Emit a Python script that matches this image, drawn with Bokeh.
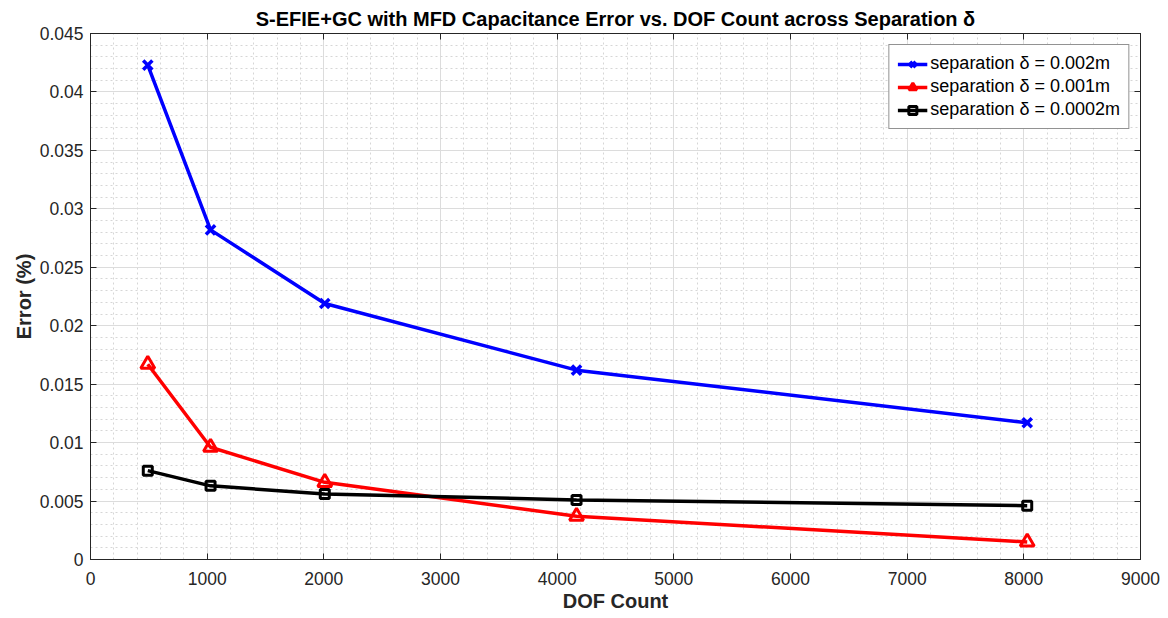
from bokeh.plotting import figure
from bokeh.models import (LinearAxis, SingleIntervalTicker, CustomJSTickFormatter,
                          CustomLabelingPolicy, Range1d)
from bokeh.embed import file_html
from bokeh.resources import INLINE

# DOF count for each refinement level
dof = [491, 1029, 2008, 4166, 8029]

# capacitance error (%) per separation
err_sep_0002 = [0.0423, 0.0282, 0.0219, 0.0162, 0.0117]
err_sep_0001 = [0.0167, 0.0096, 0.0066, 0.0037, 0.0015]
err_sep_00002 = [0.0076, 0.0063, 0.0056, 0.0051, 0.0046]

labels = ["separation δ = 0.002m", "separation δ = 0.001m", "separation δ = 0.0002m"]

title_text = "S-EFIE+GC with MFD Capacitance Error vs. DOF Count across Separation δ"
x_label = "DOF Count"
y_label = "Error (%)"

FONT = "Liberation Sans"
AX = "#262626"

p = figure(width=1168, height=618, output_backend="svg", toolbar_location=None,
           x_range=Range1d(0, 9000), y_range=Range1d(0, 0.045),
           min_border_left=90, min_border_right=28, min_border_top=33,
           min_border_bottom=59, background_fill_color="white",
           border_fill_color="white")

p.title.text = title_text
p.title.text_font = FONT
p.title.text_font_size = "20px"
p.title.text_font_style = "bold"
p.title.text_color = "black"
p.title.align = "center"
p.title.standoff = 0
p.title.offset = 0

p.outline_line_color = AX
p.outline_line_width = 1

fmt = CustomJSTickFormatter(code="return String(parseFloat(tick.toFixed(4)));")
xt = SingleIntervalTicker(interval=1000, num_minor_ticks=5)
yt = SingleIntervalTicker(interval=0.005, num_minor_ticks=5)

p.xaxis.ticker = xt
p.yaxis.ticker = yt
p.xaxis.formatter = fmt
p.yaxis.formatter = fmt
p.xaxis.axis_label = x_label
p.yaxis.axis_label = y_label

for ax in (p.xaxis[0], p.yaxis[0]):
    ax.axis_line_color = AX
    ax.major_tick_line_color = AX
    ax.major_tick_in = 6
    ax.major_tick_out = 0
    ax.minor_tick_in = 0
    ax.minor_tick_out = 0
    ax.major_label_text_font = FONT
    ax.major_label_text_font_size = "17.5px"
    ax.major_label_text_color = AX
    ax.axis_label_text_font = FONT
    ax.axis_label_text_font_size = "20px"
    ax.axis_label_text_font_style = "bold"
    ax.axis_label_text_color = AX

p.xaxis.major_label_standoff = 12
p.xaxis.axis_label_standoff = 2
p.yaxis.major_label_standoff = 7
p.yaxis.axis_label_standoff = 2

# box ticks on top and right, without labels
no_labels = CustomLabelingPolicy(
    code="for (const i of Array.from(indices)) { indices.unset(i) }; return indices")
for side, tk in (("above", xt), ("right", yt)):
    a = LinearAxis(ticker=tk, major_tick_in=6, major_tick_out=0,
                   minor_tick_in=0, minor_tick_out=0,
                   major_label_policy=no_labels, major_label_standoff=0,
                   major_label_text_font_size="1px",
                   axis_line_color=AX, major_tick_line_color=AX)
    p.add_layout(a, side)

# grid: solid major, dotted minor
for g in (p.xgrid[0], p.ygrid[0]):
    g.grid_line_color = "#dcdcdc"
    g.grid_line_width = 1
    g.minor_grid_line_color = "#d6d6d6"
    g.minor_grid_line_dash = "2 3"
    g.minor_grid_line_width = 1

LW = 3.5
p.line(dof, err_sep_0002, color="#0000ff", line_width=LW, legend_label=labels[0])
p.scatter(dof, err_sep_0002, marker="x", size=13, line_color="#0000ff",
          line_width=LW, legend_label=labels[0])

p.line(dof, err_sep_0001, color="#ff0000", line_width=LW, legend_label=labels[1])
p.scatter(dof, err_sep_0001, marker="triangle", size=14, line_color="#ff0000",
          fill_color=None, line_width=3, legend_label=labels[1])

p.line(dof, err_sep_00002, color="black", line_width=LW, legend_label=labels[2])
p.scatter(dof, err_sep_00002, marker="square", size=9, line_color="black",
          fill_color=None, line_width=3, legend_label=labels[2])

lg = p.legend[0]
lg.location = "top_right"
lg.margin = 11
lg.padding = 8
lg.spacing = 2
lg.glyph_width = 30
lg.glyph_height = 20
lg.label_height = 20
lg.label_standoff = 3
lg.label_text_font = FONT
lg.label_text_font_size = "18px"
lg.label_text_color = "black"
lg.border_line_color = AX
lg.border_line_width = 1
lg.background_fill_color = "white"
lg.background_fill_alpha = 1.0

open("out.html", "w").write(file_html(p, INLINE))
